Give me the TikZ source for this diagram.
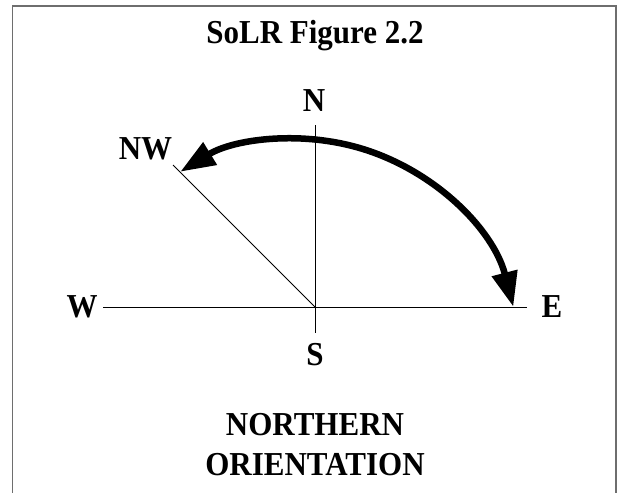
\documentclass[tikz,border=0pt]{standalone}
\usepackage{fontspec}
\setmainfont{Liberation Serif}
\usetikzlibrary{arrows.meta}
\newcommand\stretchtxt[1]{\scalebox{1}[1.08]{#1}}
\tikzset{
  lbl/.style={font=\bfseries\fontsize{31}{40}\selectfont, inner sep=0pt, anchor=center},
  axis/.style={line width=1pt, black},
  frame/.style={line width=1.8pt, color={rgb,255:red,110;green,110;blue,110}},
  sweep/.style={line width=6.5pt, {Triangle[length=35pt,width=25pt]}-{Triangle[length=35pt,width=25pt]}}
}
\begin{document}
\begin{tikzpicture}[x=1pt,y=-1pt]
\useasboundingbox (0,0) rectangle (623,492);
% frame
\coordinate (bl) at (12.5,495);
\coordinate (tl) at (12.5,6);
\coordinate (tr) at (616,6);
\coordinate (br) at (616,495);
\draw[frame] (bl) -- (tl) -- (tr) -- (br);
% title
\node[lbl] (title) at (315,36) {\stretchtxt{SoLR Figure 2.2}};
% axes
\coordinate (o) at (315,307);
\coordinate (wend) at (103,307);
\coordinate (eend) at (527,307);
\coordinate (nend) at (315,125);
\coordinate (send) at (315,333);
\coordinate (nwend) at (173,165);
\draw[axis] (wend) -- (eend);
\draw[axis] (nend) -- (send);
\draw[axis] (nwend) -- (o);
% labels
\node[lbl] (N) at (314,101) {\stretchtxt{N}};
\node[lbl] (S) at (315,355) {\stretchtxt{S}};
\node[lbl] (W) at (82,307) {\stretchtxt{W}};
\node[lbl] (E) at (552,307) {\stretchtxt{E}};
\node[lbl] (NW) at (145.5,149) {\stretchtxt{NW}};
% sweep arc
\coordinate (etip) at (513.3,306.8);
\draw[sweep] (etip) arc[start angle=-14.45, end angle=-121.4, radius=223.6];
% caption
\node[lbl] (cap1) at (315,425) {\stretchtxt{NORTHERN}};
\node[lbl] (cap2) at (315,465) {\stretchtxt{ORIENTATION}};
\end{tikzpicture}
\end{document}
